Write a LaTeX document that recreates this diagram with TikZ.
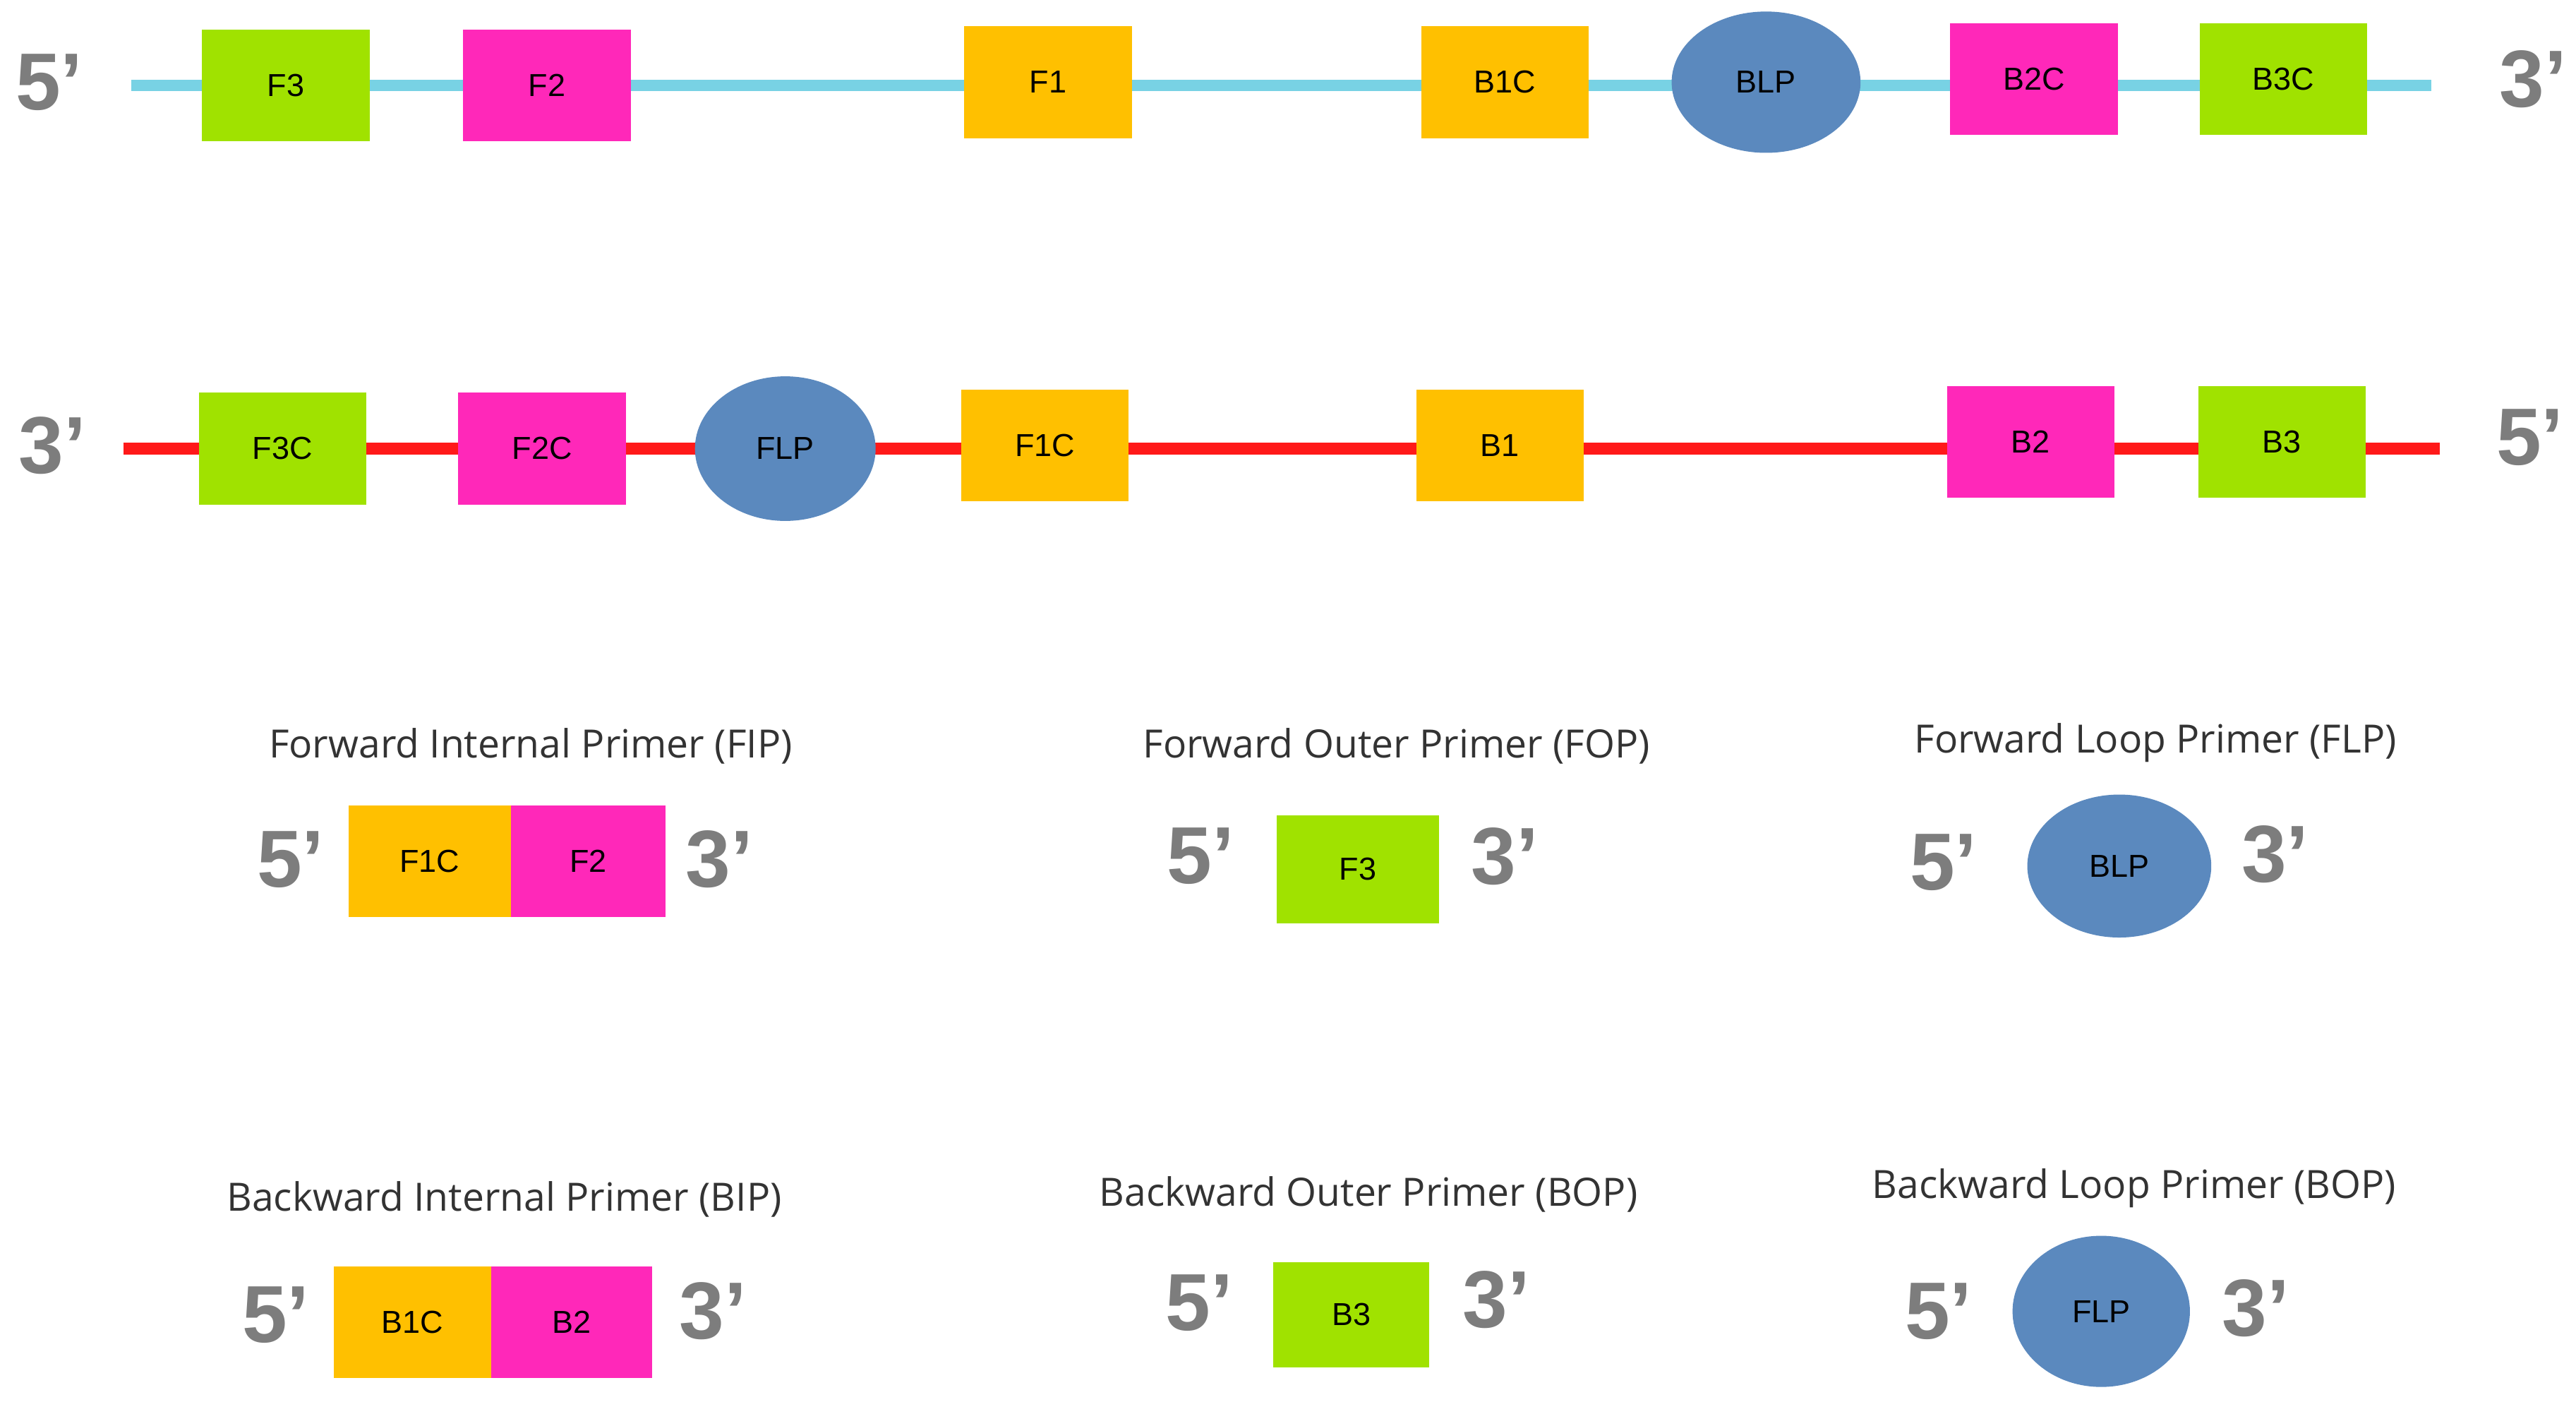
\documentclass[tikz,border=0pt]{standalone}
\usepackage{fontspec}
\setmainfont{Liberation Sans}
\newfontfamily\titlefont{Open Sans}
\usetikzlibrary{shapes.geometric}
\definecolor{cgreen}{RGB}{160,226,0}
\definecolor{cpink}{RGB}{255,40,185}
\definecolor{cyel}{RGB}{255,192,0}
\definecolor{cblue}{RGB}{91,137,190}
\definecolor{ccyan}{RGB}{120,210,228}
\definecolor{cred}{RGB}{255,25,25}
\definecolor{cgray}{RGB}{125,125,125}
\begin{document}
\begin{tikzpicture}[x=0.02cm,y=-0.02cm,
 box/.style={draw=none,minimum width=2.04cm,minimum height=1.36cm,inner sep=0pt,font=\fontsize{11}{12}\selectfont},
 gb/.style={box,fill=cgreen},pb/.style={box,fill=cpink},yb/.style={box,fill=cyel},
 ell/.style={ellipse,fill=cblue,draw=none,minimum width=2.3cm,minimum height=1.72cm,inner sep=0pt,font=\fontsize{11}{12}\selectfont},
 end/.style={text=cgray,font=\bfseries\fontsize{28}{30}\selectfont},
 ttl/.style={font=\titlefont\fontsize{13.5}{15}\selectfont,text=black!80}]
\useasboundingbox (0,0) rectangle (1568,853);
% top strand
\coordinate (tl) at (80,52); \coordinate (tr) at (1480,52);
\draw[ccyan,line width=4pt] (tl) -- (tr);
\node[end] (t5) at (30,50) {5'};
\node[end] (t3) at (1542,48) {3'};
\node[gb] (tF3) at (174,52) {F3};
\node[pb] (tF2) at (333,52) {F2};
\node[yb] (tF1) at (638,50) {F1};
\node[yb] (tB1C) at (916,50) {B1C};
\node[ell] (tBLP) at (1075,50) {BLP};
\node[pb] (tB2C) at (1238,48) {B2C};
\node[gb] (tB3C) at (1390,48) {B3C};
% bottom strand
\coordinate (bl) at (75,273); \coordinate (br) at (1485,273);
\draw[cred,line width=4pt] (bl) -- (br);
\node[end] (b3) at (32,271) {3'};
\node[end] (b5) at (1540,266) {5'};
\node[gb] (bF3C) at (172,273) {F3C};
\node[pb] (bF2C) at (330,273) {F2C};
\node[ell,minimum width=2.2cm,minimum height=1.76cm] (bFLP) at (478,273) {FLP};
\node[yb] (bF1C) at (636,271) {F1C};
\node[yb] (bB1) at (913,271) {B1};
\node[pb] (bB2) at (1236,269) {B2};
\node[gb] (bB3) at (1389,269) {B3};
% FIP
\node[ttl] (tFIP) at (323,454) {Forward Internal Primer (FIP)};
\node[end] (fip5) at (177,523) {5'};
\node[yb,minimum width=1.98cm] (fipF1C) at (261.5,524) {F1C};
\node[pb,minimum width=1.88cm] (fipF2) at (358,524) {F2};
\node[end] (fip3) at (438,523) {3'};
% FOP
\node[ttl] (tFOP) at (850,454) {Forward Outer Primer (FOP)};
\node[end] (fop5) at (731,521) {5'};
\node[gb,minimum width=1.98cm,minimum height=1.32cm] (fopF3) at (826.5,529) {F3};
\node[end] (fop3) at (916,521) {3'};
% FLP
\node[ttl] (tFLP) at (1312,452) {Forward Loop Primer (FLP)};
\node[end] (flp5) at (1183,525) {5'};
\node[ell,minimum width=2.24cm,minimum height=1.74cm] (flpBLP) at (1290,527) {BLP};
\node[end] (flp3) at (1385,520) {3'};
% BIP
\node[ttl] (tBIP) at (307,730) {Backward Internal Primer (BIP)};
\node[end] (bip5) at (168,800) {5'};
\node[yb,minimum width=1.92cm] (bipB1C) at (251,804.5) {B1C};
\node[pb,minimum width=1.96cm] (bipB2) at (348,804.5) {B2};
\node[end] (bip3) at (434,798) {3'};
% BOP
\node[ttl] (tBOP) at (833,727) {Backward Outer Primer (BOP)};
\node[end] (bop5) at (730,793) {5'};
\node[gb,minimum width=1.9cm,minimum height=1.28cm] (bopB3) at (822.5,800) {B3};
\node[end] (bop3) at (911,791) {3'};
% BLP
\node[ttl] (tBLP) at (1299,723) {Backward Loop Primer (BOP)};
\node[end] (blp5) at (1180,798) {5'};
\node[ell,minimum width=2.16cm,minimum height=1.84cm] (blpFLP) at (1279,798) {FLP};
\node[end] (blp3) at (1373,796) {3'};
\end{tikzpicture}
\end{document}
